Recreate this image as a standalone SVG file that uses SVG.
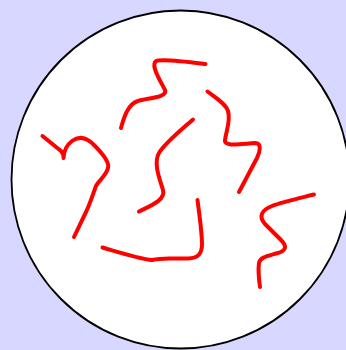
<svg xmlns="http://www.w3.org/2000/svg" width="346" height="350" viewBox="0 0 346 350">
<style>
.bg{fill:#d7d7ff}
.cell{fill:#ffffff;stroke:#000000;stroke-width:1.8}
.fil{fill:none;stroke:#ff0000;stroke-width:4;stroke-linecap:round;stroke-linejoin:round}
</style>
<rect class="bg" x="0" y="0" width="346" height="350"/>
<circle class="cell" cx="180.5" cy="179.5" r="169"/>
<g id="filaments">
<path class="fil" d="M205.5,64 C190,62 168,59 158,60.5 C148,62 161,82 165,90 C168,98 146,98 138,101 C128,104 124,117 121,128"/>
<path class="fil" d="M42.5,136 L61,151 Q64,154 63.5,158 Q64,147 72,141 C80,135 88,139 94,145 C101,152 110,162 108,168 C106,176 99,180 96,186 C93,194 90,204 86,212 L74,237"/>
<path class="fil" d="M193,119.5 C180,131 165,143 159,153 C153,163 160,180 163,190 C166,200 150,206 139,211.5"/>
<path class="fil" d="M207.5,91.5 C216,98 226,104 228,111 C231,120 226,132 225,140 C224,147 240,144 255,143 C262,143 260,152 257,158 L239,192"/>
<path class="fil" d="M102.5,247.5 C118,252 140,259 152,260 C156,259 160,258 175,258.5 L188,258.5 C198,258 202,254 202,244 C202,232 199,212 197.5,200"/>
<path class="fil" d="M314,194.5 C300,198 282,202 272,206 C262,210 258,216 265,224 L281,240 C288,247 285,251 278,253 C268,256 260,257 259,263 C258,270 259,280 260,287"/>
</g>
</svg>
